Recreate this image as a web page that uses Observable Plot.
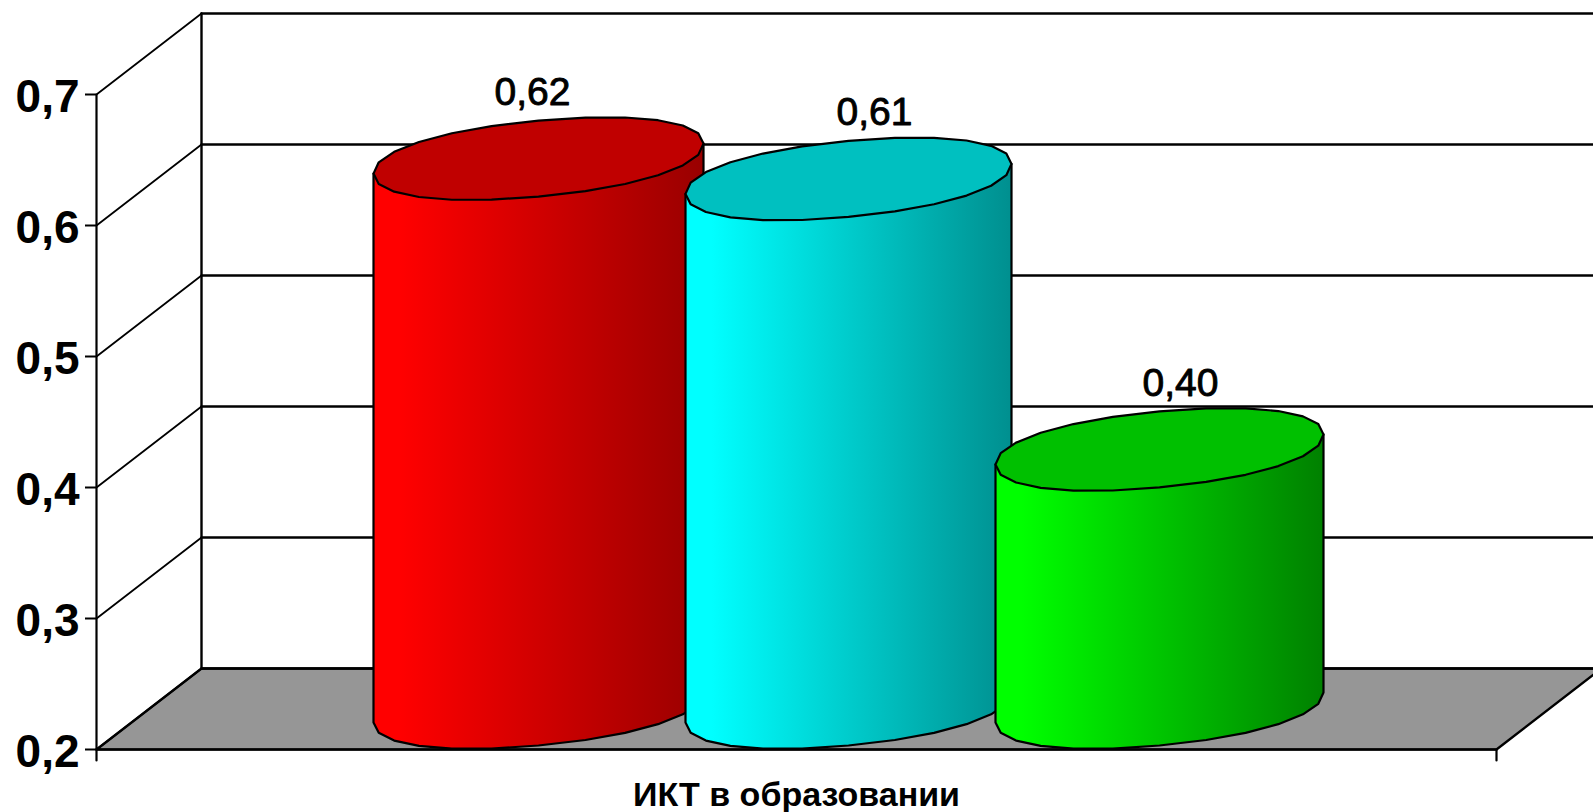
<!DOCTYPE html>
<html>
<head>
<meta charset="utf-8">
<style>html,body{margin:0;padding:0;background:#fff;overflow:hidden}</style>
<script src="https://cdn.jsdelivr.net/npm/d3@7"></script>
<script src="https://cdn.jsdelivr.net/npm/@observablehq/plot@0.6"></script>
</head>
<body>
<script>
// Data
const groupLabel = "ИКТ в образовании";
const yTicks = [0.2, 0.3, 0.4, 0.5, 0.6, 0.7];
const barHeights = [0.619, 0.6035, 0.397];   // heights as drawn
const barLabels = ["0,62", "0,61", "0,40"];
const barCenters = [442, 752, 1063];         // x units along the floor
const barHalfWidths = [165, 163, 164];
const labelShifts = [-6, 26, 21];
const bodyBright = ["#ff0000", "#00ffff", "#00ff00"];
const bodyDark = ["#990000", "#008f8f", "#008000"];
const capFill = ["#c00000", "#00c0c0", "#00c000"];

// Geometry of the pseudo-3D box (x units = px, y in value units)
const W = 1593, H = 812, yTop = 94, yBase = 749;
const px = 0.5 / (yBase - yTop);         // one pixel in value units
const depthX = 105, depthY = 81 * px;
const xEnd = 1400;
const B = 15, C = 38, halfH = 42, squareness = 0.93;

const pow = (v) => Math.sign(v) * Math.pow(Math.abs(v), squareness);
const ell = (t, A) => [A * pow(Math.cos(t)), -B * pow(Math.cos(t)) - C * pow(Math.sin(t))];
function capOutline(cx, v, A) {
  const cy = v + halfH * px, pts = [];
  for (let i = 0; i <= 24; ++i) {
    const [ex, ey] = ell((i / 24) * 2 * Math.PI, A);
    pts.push({x: cx + ex, y: cy - ey * px});
  }
  return pts;
}
function bodyOutline(cx, v, A) {
  const pts = [];
  const top = v + halfH * px, base = 0.2 + halfH * px;
  pts.push({x: cx - A, y: top - B * px});
  for (let i = 0; i <= 12; ++i) {
    const [ex, ey] = ell(Math.PI + (i / 12) * Math.PI, A);
    pts.push({x: cx + ex, y: base - ey * px});
  }
  pts.push({x: cx + A, y: top + B * px});
  return pts;
}

const gradients = () => {
  const defs = d3.create("svg:defs");
  barHeights.forEach((_, i) => {
    const g = defs.append("linearGradient").attr("id", "body" + i);
    g.append("stop").attr("offset", "0.08").attr("stop-color", bodyBright[i]);
    g.append("stop").attr("offset", "1").attr("stop-color", bodyDark[i]);
  });
  return defs.node();
};

const font = "Liberation Sans, Arial, sans-serif";
const line = (pts, o = {}) => Plot.line(pts, {x: "x", y: "y", stroke: "black", strokeWidth: 2.2, strokeLinejoin: "round", ...o});
const marks = [
  gradients,
  // floor
  line([{x: 0, y: 0.2}, {x: depthX, y: 0.2 + depthY}, {x: xEnd + depthX, y: 0.2 + depthY}, {x: xEnd, y: 0.2}, {x: 0, y: 0.2}], {fill: "#969696", strokeWidth: 2.4}),
  // back wall grid lines
  ...yTicks.map(v => line([{x: depthX, y: v + depthY}, {x: xEnd + depthX, y: v + depthY}], {strokeWidth: 2.4})),
  line([{x: depthX, y: 0.2 + depthY}, {x: depthX, y: 0.7 + depthY}], {strokeWidth: 2.4}),
  // side wall lines
  ...yTicks.map(v => line([{x: 0, y: v}, {x: depthX, y: v + depthY}], {strokeWidth: 1.8})),
  // axes
  line([{x: 0, y: 0.7}, {x: 0, y: 0.2 - 11 * px}]),
  line([{x: 0, y: 0.2}, {x: xEnd, y: 0.2}]),
  line([{x: xEnd, y: 0.2}, {x: xEnd, y: 0.2 - 11 * px}]),
  Plot.axisY(yTicks, {anchor: "left", tickSize: 11, text: null, strokeWidth: 2, label: null}),
  Plot.axisY(yTicks, {anchor: "left", tickSize: 0, tickPadding: 17, dy: 3, label: null,
    tickFormat: d => d.toFixed(1).replace(".", ","), fontSize: 46, fontWeight: "bold", fontFamily: font, fill: "black"}),
];
barHeights.forEach((v, i) => {
  marks.push(line(bodyOutline(barCenters[i], v, barHalfWidths[i]), {fill: `url(#body${i})`}));
  marks.push(line(capOutline(barCenters[i], v, barHalfWidths[i]), {fill: capFill[i]}));
});
marks.push(Plot.text(barHeights.map((v, i) => ({x: barCenters[i] + labelShifts[i], y: v, t: barLabels[i]})), {
  x: "x", y: "y", text: "t", dy: -108, fontSize: 39, fontFamily: font, fill: "black", stroke: "black", strokeWidth: 0.9
}));
marks.push(Plot.text([groupLabel], {
  x: () => xEnd / 2, y: () => 0.2, dy: 46, fontSize: 34, fontWeight: "bold", fontFamily: font, fill: "black"
}));

const chart = Plot.plot({
  width: W, height: H,
  marginLeft: 96, marginRight: W - 96 - xEnd, marginTop: yTop, marginBottom: H - yBase,
  x: {domain: [0, xEnd], axis: null},
  y: {domain: [0.2, 0.7], axis: null},
  style: {background: "white", fontFamily: font, color: "black", maxWidth: "none"},
  marks
});
document.body.appendChild(chart);
</script>
</body>
</html>
